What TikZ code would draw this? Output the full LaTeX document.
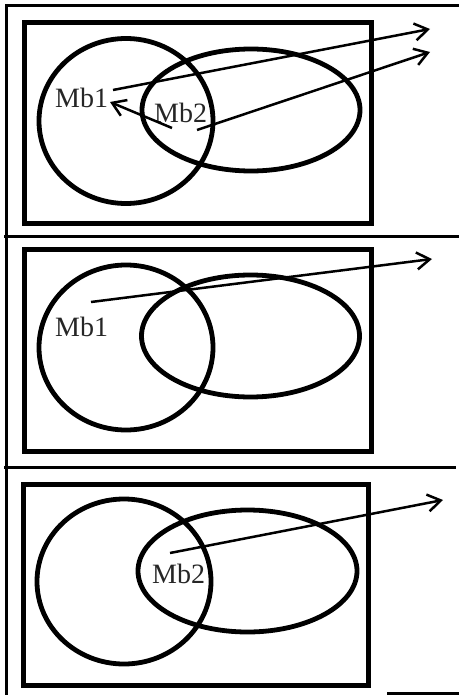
\documentclass[tikz,border=0pt]{standalone}
\usepackage{fontspec}
\setmainfont{Liberation Serif}
\usetikzlibrary{arrows.meta}
\begin{document}
\begin{tikzpicture}[x=1pt,y=-1pt,
  frame/.style={line width=3pt},
  box/.style={line width=5pt},
  set/.style={line width=4.8pt},
  arr/.style={line width=2.5pt,-{Straight Barb[length=13pt,width=17pt,line width=2.5pt]}},
  lbl/.style={inner sep=0pt,anchor=base west,font=\fontsize{28}{28}\selectfont,text=black!85}]
\useasboundingbox (0,0) rectangle (459,695);
% outer frame
\draw[frame] (6,695) -- (6,6) -- (459,6);
\draw[frame] (4,236) -- (459,236);
\draw[frame] (4,467) -- (456,467);
\draw[frame] (387,693.5) -- (459,693.5);
% panel 1
\draw[box] (24.5,22.5) rectangle (371,223);
\draw[set] (126,121) ellipse [x radius=87, y radius=82.5];
\draw[set] (251,110) ellipse [x radius=109, y radius=61];
\node[lbl] (a1) at (55,108) {Mb1};
\node[lbl] (a2) at (154,123) {Mb2};
\coordinate (p1s) at (113,90);
\coordinate (p1e) at (430,29);
\coordinate (p2s) at (197,130);
\coordinate (p2e) at (430,52);
\coordinate (p3s) at (172,128);
\coordinate (p3e) at (110,102);
\draw[arr] (p1s) -- (p1e);
\draw[arr] (p2s) -- (p2e);
\draw[arr] (p3s) -- (p3e);
% panel 2
\draw[box] (24.5,249) rectangle (371,451);
\draw[set] (126,347.5) ellipse [x radius=87, y radius=82.5];
\draw[set] (250.5,336) ellipse [x radius=109, y radius=61];
\node[lbl] (b1) at (55,336) {Mb1};
\coordinate (q1s) at (91,302);
\coordinate (q1e) at (432,259);
\draw[arr] (q1s) -- (q1e);
% panel 3
\draw[box] (23,484) rectangle (368,685);
\draw[set] (124,581.5) ellipse [x radius=87, y radius=82.5];
\draw[set] (247.5,571) ellipse [x radius=109.5, y radius=61];
\node[lbl] (c2) at (152,583) {Mb2};
\coordinate (r1s) at (170,553);
\coordinate (r1e) at (443,500);
\draw[arr] (r1s) -- (r1e);
\end{tikzpicture}
\end{document}
